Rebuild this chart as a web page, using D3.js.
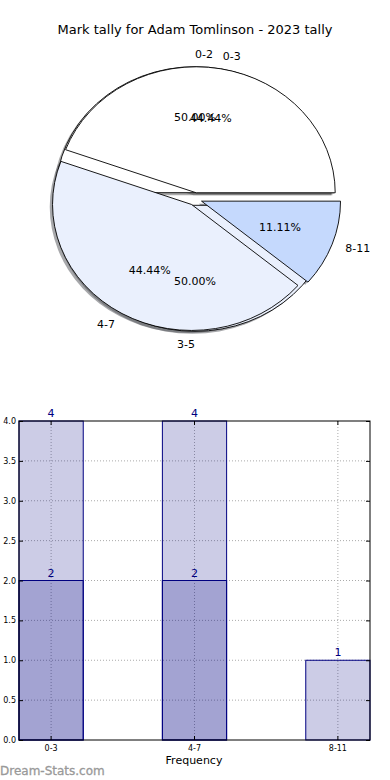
<!DOCTYPE html>
<html>
<head>
<meta charset="utf-8">
<script src="https://cdn.jsdelivr.net/npm/d3@7"></script>
<style>
  body { margin: 0; background: #fff; }
  svg { display: block; font-family: "DejaVu Sans", sans-serif; }
</style>
</head>
<body>
<script>
// tally data
var oldCats = ["0-2", "3-5"];
var oldCounts = [2, 2];
var newCats = ["0-3", "4-7", "8-11"];
var newCounts = [4, 4, 1];
var barNew = [4, 4, 1];   // light bars
var barOld = [2, 2, 0];   // dark bars, drawn on top
var yTicks = [0, 0.5, 1, 1.5, 2, 2.5, 3, 3.5, 4];
var pieColors = ["#ffffff", "#eaf0fd", "#c5d9fd"];

var W = 390, H = 780;
var svg = d3.select("body").append("svg")
    .attr("width", W)
    .attr("height", H);

// title
svg.append("text")
    .attr("x", 195).attr("y", 34)
    .attr("text-anchor", "middle")
    .style("font-size", "13px")
    .text("Mark tally for Adam Tomlinson - 2023 tally");

// ---------- pie part ----------
var cx = 195, cy = 199, rx = 139, ry = 126;
var explode = 0.05;

// matplotlib style: start at 3 o'clock, counter clockwise
var pie = d3.pie().sort(null)
    .startAngle(Math.PI / 2)
    .endAngle(Math.PI / 2 - 2 * Math.PI);

var arc = d3.arc().innerRadius(0).outerRadius(rx);

function mid(d) { return (d.startAngle + d.endAngle) / 2; }
function offs(d, k) {
  var a = mid(d);
  return [cx + k * rx * Math.sin(a), cy - k * ry * Math.cos(a)];
}

var pies = [
  { cats: oldCats, data: pie(oldCounts) },
  { cats: newCats, data: pie(newCounts) }
];

// shadows go under everything
var shadowG = svg.append("g");
pies.forEach(function(p) {
  shadowG.selectAll(null)
      .data(p.data)
    .enter().append("path")
      .attr("d", arc)
      .attr("transform", function(d) {
        var o = offs(d, explode);
        return "translate(" + (o[0] - 0.02 * rx) + "," + (o[1] + 0.02 * ry) + ") scale(1," + (ry / rx) + ")";
      })
      .style("fill", function(d, i) { return d3.rgb(pieColors[i]).darker(3); })
      .style("opacity", 0.5);
});

pies.forEach(function(p) {
  svg.append("g").selectAll("path")
      .data(p.data)
    .enter().append("path")
      .attr("d", arc)
      .attr("transform", function(d) {
        var o = offs(d, explode);
        return "translate(" + o[0] + "," + o[1] + ") scale(1," + (ry / rx) + ")";
      })
      .attr("vector-effect", "non-scaling-stroke")
      .style("fill", function(d, i) { return pieColors[i]; })
      .style("stroke", "#000")
      .style("stroke-width", 0.9);
});

// texts on top
pies.forEach(function(p) {
  var tot = d3.sum(p.data, function(d) { return d.value; });
  var g = svg.append("g").style("font-size", "11px");
  p.data.forEach(function(d, i) {
    var l = offs(d, explode + 1.1);
    var th = Math.PI / 2 - mid(d);
    g.append("text")
        .attr("x", l[0]).attr("y", l[1])
        .attr("dy", "0.35em")
        .attr("text-anchor", Math.cos(th) > 0 ? "start" : "end")
        .text(p.cats[i]);
    var q = offs(d, explode + 0.6);
    g.append("text")
        .attr("x", q[0]).attr("y", q[1])
        .attr("dy", "0.35em")
        .attr("text-anchor", "middle")
        .text(d3.format(".2f")(100 * d.value / tot) + "%");
  });
});

// ---------- bar part ----------
var bx0 = 19, bx1 = 370, by0 = 740, by1 = 421;
var x = d3.scaleBand().domain(newCats).range([bx0, bx1])
    .paddingInner(0.552).paddingOuter(0);
var y = d3.scaleLinear().domain([0, 4]).range([by0, by1]);
var navy = "#000080";

// grid lines (dotted), bars are see-through so they show
var grid = svg.append("g")
    .style("stroke", "#aaa")
    .style("stroke-dasharray", "1,2");
grid.selectAll("line.h")
    .data(yTicks.slice(1, -1))
  .enter().append("line")
    .attr("x1", bx0).attr("x2", bx1)
    .attr("y1", function(d) { return y(d); })
    .attr("y2", function(d) { return y(d); });
grid.selectAll("line.v")
    .data(newCats)
  .enter().append("line")
    .attr("x1", function(d) { return x(d) + x.bandwidth() / 2; })
    .attr("x2", function(d) { return x(d) + x.bandwidth() / 2; })
    .attr("y1", by1).attr("y2", by0);

var bars = svg.append("g");
[barNew, barOld].forEach(function(vals) {
  bars.append("g").selectAll("rect")
      .data(vals)
    .enter().filter(function(d) { return d > 0; }).append("rect")
      .attr("x", function(d, i) { return x(newCats[i]); })
      .attr("y", function(d) { return y(d); })
      .attr("width", x.bandwidth())
      .attr("height", function(d) { return by0 - y(d); })
      .style("fill", navy)
      .style("fill-opacity", 0.2)
      .style("stroke", navy)
      .style("stroke-width", 1);
});

// value labels
[barNew, barOld].forEach(function(vals) {
  svg.append("g").selectAll("text")
      .data(vals)
    .enter().filter(function(d) { return d > 0; }).append("text")
      .attr("x", function(d, i) { return x(newCats[i]) + x.bandwidth() / 2; })
      .attr("y", function(d) { return y(d) - 4; })
      .attr("text-anchor", "middle")
      .style("font-size", "11px")
      .style("fill", navy)
      .text(function(d) { return d; });
});

// frame
svg.append("rect")
    .attr("x", bx0).attr("y", by1)
    .attr("width", bx1 - bx0).attr("height", by0 - by1)
    .style("fill", "none")
    .style("stroke", "#000")
    .style("stroke-width", 1);

// y axis left + ticks on the right
var yAxis = d3.axisLeft(y).tickValues(yTicks).tickFormat(d3.format(".1f"))
    .tickSizeInner(-4).tickSizeOuter(0).tickPadding(4);
var ga = svg.append("g").attr("transform", "translate(" + bx0 + ",0)").call(yAxis);
ga.select(".domain").remove();
ga.selectAll("text").style("font-size", "8px").style("font-family", "DejaVu Sans").attr("x", -3);

var yRight = d3.axisRight(y).tickValues(yTicks).tickFormat("").tickSizeInner(-4).tickSizeOuter(0);
svg.append("g").attr("transform", "translate(" + bx1 + ",0)").call(yRight)
    .select(".domain").remove();

var xAxis = d3.axisBottom(x).tickSizeInner(-4).tickSizeOuter(0).tickPadding(5);
var gx = svg.append("g").attr("transform", "translate(0," + by0 + ")").call(xAxis);
gx.select(".domain").remove();
gx.selectAll("text").style("font-size", "8px").style("font-family", "DejaVu Sans");

var xTop = d3.axisTop(x).tickFormat("").tickSizeInner(-4).tickSizeOuter(0);
svg.append("g").attr("transform", "translate(0," + by1 + ")").call(xTop)
    .select(".domain").remove();

svg.append("text")
    .attr("x", 194).attr("y", 764)
    .attr("text-anchor", "middle")
    .style("font-size", "11px")
    .text("Frequency");

// watermark
svg.append("text")
    .attr("x", 0).attr("y", 775)
    .style("font-size", "12px")
    .style("fill", "#999")
    .style("stroke", "#999")
    .style("stroke-width", 0.3)
    .text("Dream-Stats.com");
</script>
</body>
</html>
